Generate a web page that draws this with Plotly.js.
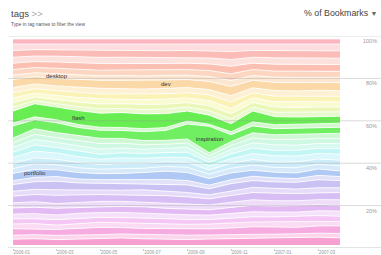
<!DOCTYPE html>
<html><head><meta charset="utf-8">
<script src="https://cdn.plot.ly/plotly-3.0.1.min.js"></script>
<style>html,body{margin:0;padding:0;background:#fff;}#chart{width:381px;height:255px;}</style>
</head><body><div id="chart"></div>
<script>
// ---- data (bottom -> top of the stack) ----
const months = ['2006-01','2006-02','2006-03','2006-04','2006-05','2006-06','2006-07','2006-08','2006-09','2006-10','2006-11','2006-12','2007-01','2007-02','2007-03','2007-04'];
const tickMonths = ['2006-01','2006-03','2006-05','2006-07','2006-09','2006-11','2007-01','2007-03'];
const tickLabels = ['2006-01','2006-03','2006-05','2006-07','2006-09','2006-11','2007-01','2007-03'];
const pctTicks = [0, 20, 40, 60, 80, 100];
const pctLabels = ['', '20%', '40%', '60%', '80%', '100%'];

const tagNames = ['t01','t02','t03','t04','t05','t06','t07','t08','t09','t10','t11','t12','portfolio','t14','t15','t16','t17','t18','t19','t20','inspiration','t22','flash','t24','t25','t26','t27','t28','dev','desktop','t31','t32','t33','t34','t35','t36'];

const s01 = [3.0,3.2,2.8,3.0,3.4,3.6,3.2,3.0,2.8,3.0,3.2,3.4,3.6,3.8,4.0,3.6];
const s02 = [2.0,2.0,2.2,2.0,1.8,2.0,2.2,2.4,2.2,2.0,2.0,2.2,2.0,1.8,2.0,2.2];
const s03 = [3.2,3.0,3.0,3.4,3.6,3.2,3.0,3.0,3.2,3.0,3.4,3.6,3.4,3.2,3.6,3.8];
const s04 = [2.4,2.6,2.2,2.4,2.6,2.4,2.6,2.4,2.2,2.4,2.6,2.4,2.6,2.8,2.4,2.2];
const s05 = [2.6,2.4,2.8,2.6,2.4,2.6,2.8,2.6,2.4,2.2,2.4,2.6,2.4,2.6,2.8,2.6];
const s06 = [2.4,2.6,2.4,2.6,2.4,2.6,2.4,2.2,2.4,2.2,2.4,2.6,2.4,2.2,2.4,2.6];
const s07 = [3.0,3.2,3.4,3.0,2.8,3.0,3.2,3.0,2.8,2.6,3.0,3.2,3.0,3.2,3.0,2.8];
const s08 = [2.6,2.8,2.4,2.6,2.8,2.6,2.4,2.6,2.8,2.4,2.6,2.8,2.6,2.4,2.6,2.8];
const s09 = [3.4,3.6,4.2,3.6,3.4,3.2,3.6,3.8,3.4,3.0,3.4,3.6,3.8,3.6,3.4,3.6];
const s10 = [2.4,2.6,2.8,2.4,2.2,2.4,2.6,2.4,2.2,2.0,2.4,2.6,2.4,2.2,2.6,2.4];
const s11 = [3.4,3.8,4.4,3.6,3.4,3.2,3.0,3.4,3.8,3.0,3.6,3.4,3.2,3.4,4.0,3.6];
const s12 = [2.0,2.2,2.4,2.0,1.8,2.0,2.2,2.4,2.2,1.8,2.0,2.2,2.0,1.8,2.2,2.0];
const s13 = [3.6,4.0,3.4,3.2,3.0,3.2,3.6,4.2,4.0,3.2,3.4,3.0,2.8,2.8,3.2,2.8];
const s14 = [2.4,2.8,2.6,2.4,2.2,2.4,2.2,2.4,2.6,2.2,2.4,2.6,2.4,2.6,2.4,2.6];
const s15 = [2.6,3.0,2.8,2.6,2.4,2.6,2.4,2.2,2.4,2.0,2.4,2.8,2.6,2.8,2.6,2.8];
const s16 = [3.0,3.4,3.2,3.0,2.6,2.8,2.6,2.4,2.6,2.0,2.4,3.0,3.2,3.0,2.8,3.0];
const s17 = [2.6,3.0,2.8,2.8,2.4,2.6,2.4,2.4,2.6,1.8,2.4,2.8,2.6,2.8,2.6,2.8];
const s18 = [2.4,2.8,2.6,2.8,2.6,2.4,2.2,2.2,2.4,1.6,2.2,2.6,2.8,2.6,2.4,2.6];
const s19 = [2.4,2.6,2.4,2.6,2.8,2.4,2.2,2.0,2.2,1.6,2.0,2.4,2.6,2.8,2.6,2.4];
const s20 = [2.4,2.8,2.6,2.4,2.6,2.4,2.2,2.0,2.0,1.6,2.0,2.6,2.4,2.6,2.4,2.6];
const s21 = [6.0,4.5,5.0,4.0,4.0,4.0,4.5,5.0,7.5,13.0,3.5,3.5,3.0,3.0,3.0,3.0];
const s22 = [1.5,1.5,1.5,1.5,1.5,1.5,1.5,1.5,1.5,1.0,1.5,2.0,2.0,2.0,2.0,2.0];
const s23 = [6.0,6.5,6.5,7.0,7.0,7.5,7.5,7.0,5.0,4.5,4.0,5.5,4.0,3.5,3.5,3.5];
const s24 = [2.0,1.6,1.8,2.0,2.2,2.0,2.2,2.4,2.0,2.2,2.4,2.0,2.2,2.4,2.2,2.2];
const s25 = [2.2,1.8,2.0,2.2,2.4,2.4,2.6,2.4,2.2,2.4,2.6,2.2,2.6,2.4,2.6,2.4];
const s26 = [2.4,2.0,2.2,2.4,2.6,2.4,2.4,2.6,2.4,2.6,2.8,2.4,2.6,2.8,2.6,2.6];
const s27 = [2.6,2.2,2.4,2.6,2.4,2.6,2.8,2.6,2.6,2.8,3.2,2.4,2.8,2.6,2.8,2.8];
const s28 = [2.6,2.4,2.4,2.6,2.8,2.6,2.6,2.8,2.6,2.6,3.2,2.6,2.8,2.8,3.0,2.8];
const s29 = [4.0,3.6,3.8,3.8,4.0,4.2,4.4,4.2,4.0,4.0,4.6,3.8,4.0,4.2,4.2,4.0];
const s30 = [2.2,2.0,2.4,2.2,2.2,2.4,2.2,2.4,2.2,2.4,3.0,2.4,2.6,2.4,2.4,2.6];
const s31 = [2.8,2.6,2.8,3.0,2.8,2.8,3.0,2.8,2.8,3.0,3.4,3.0,3.0,3.2,3.0,3.0];
const s32 = [3.2,3.0,3.2,3.2,3.4,3.2,3.2,3.2,3.2,3.2,3.8,3.2,3.4,3.2,3.4,3.4];
const s33 = [3.0,2.8,3.0,3.0,3.0,3.2,3.2,3.0,3.0,3.0,3.4,3.0,3.2,3.2,3.2,3.2];
const s34 = [3.4,3.2,3.2,3.4,3.4,3.4,3.6,3.4,3.4,3.4,4.0,3.4,3.6,3.6,3.6,3.6];
const s35 = [3.2,3.0,3.0,3.0,3.2,3.2,3.2,3.4,3.2,3.4,3.6,3.2,3.2,3.4,3.4,3.4];
const s36 = [2.6,2.4,2.6,2.6,2.6,2.6,2.6,2.6,2.6,2.6,2.8,2.6,2.6,2.6,2.6,2.6];

const series = [s01,s02,s03,s04,s05,s06,s07,s08,s09,s10,s11,s12,s13,s14,s15,s16,s17,s18,s19,s20,s21,s22,s23,s24,s25,s26,s27,s28,s29,s30,s31,s32,s33,s34,s35,s36];

// labelled tags: name and the month where its label sits
const labelTags = ['desktop','dev','flash','inspiration','portfolio'];
const labelMonths = ['2006-03','2006-08','2006-04','2006-10','2006-02'];

// ---- styles ----
const colors = [
 'hsl(325,85%,80%)','hsl(322,85%,91%)','hsl(318,80%,82%)','hsl(312,80%,92%)','hsl(300,70%,87%)','hsl(292,70%,93%)',
 'hsl(283,70%,84%)','hsl(278,70%,92%)','hsl(268,70%,85%)','hsl(260,70%,92%)','hsl(250,70%,86%)','hsl(240,70%,93%)',
 'hsl(218,75%,82%)','hsl(208,80%,91%)','hsl(198,80%,89%)','hsl(188,80%,92%)','hsl(178,75%,86%)','hsl(163,75%,91%)',
 'hsl(148,75%,89%)','hsl(128,75%,89%)','hsl(114,82%,66%)','hsl(112,75%,89%)','hsl(112,82%,63%)',
 'hsl(85,80%,89%)','hsl(72,80%,84%)','hsl(62,85%,90%)','hsl(52,90%,85%)','hsl(42,90%,91%)','hsl(35,92%,82%)',
 'hsl(30,90%,90%)','hsl(22,90%,87%)','hsl(12,90%,84%)','hsl(8,90%,93%)','hsl(4,90%,85%)','hsl(358,90%,93%)','hsl(352,90%,85%)'
];

const traces = series.map((vals, i) => ({
  x: months, y: vals, name: tagNames[i], type: 'scatter', mode: 'lines',
  stackgroup: 'tags', groupnorm: 'percent',
  line: {color: '#ffffff', width: 0.8, shape: 'linear'},
  fillcolor: colors[i], hoverinfo: 'skip', showlegend: false
}));

// label y = middle of the band, in percent, computed from the data
const annotations = labelTags.map((name, k) => {
  const si = tagNames.indexOf(name);
  const mi = months.indexOf(labelMonths[k]);
  let total = 0, below = 0;
  series.forEach((s, j) => { total += s[mi]; if (j < si) below += s[mi]; });
  const mid = (below + series[si][mi] / 2) / total * 100;
  return {x: labelMonths[k], y: mid, xref: 'x', yref: 'y', text: name, showarrow: false,
          font: {family: 'Liberation Sans, Arial, sans-serif', size: 6, color: '#333'}};
});

pctTicks.forEach((v, k) => {
  if (pctLabels[k]) annotations.push({x: 1.12, xref: 'paper', y: v, yref: 'y2', text: pctLabels[k],
    xanchor: 'right', yanchor: 'top', yshift: 0, showarrow: false,
    font: {family: 'Liberation Sans, Arial, sans-serif', size: 5.5, color: '#999'}});
});

annotations.push({x: 0, y: 1, xref: 'paper', yref: 'paper', xshift: -4, yshift: 23, xanchor: 'left', yanchor: 'middle',
  text: 'tags <span style="color:#aaa">&gt;&gt;</span>', showarrow: false,
  font: {family: 'Liberation Sans, Arial, sans-serif', size: 9.5, color: '#444'}});
annotations.push({x: 0, y: 1, xref: 'paper', yref: 'paper', xshift: -4, yshift: 12, xanchor: 'left', yanchor: 'middle',
  text: 'Type in tag names to filter the view', showarrow: false,
  font: {family: 'Liberation Sans, Arial, sans-serif', size: 4.8, color: '#555'}});
annotations.push({x: 1.12, y: 1, xref: 'paper', yref: 'paper', xanchor: 'right', yanchor: 'middle', yshift: 23,
  text: '% of Bookmarks <span style="font-size:7px;color:#666">▼</span>', showarrow: false,
  font: {family: 'Liberation Sans, Arial, sans-serif', size: 8.8, color: '#444'}});

const shapes = pctTicks.map(v => ({type: 'line', xref: 'paper', yref: 'y2', x0: -0.015, x1: 1.13, y0: v, y1: v,
  layer: 'above', line: {color: v === 0 ? 'rgba(160,160,160,0.6)' : 'rgba(150,150,150,0.35)', width: 1}}));

const layout = {
  width: 381, height: 255,
  margin: {l: 13, r: 41, t: 36, b: 7},
  paper_bgcolor: '#fff', plot_bgcolor: '#fff',
  showlegend: false,
  xaxis: {type: 'category', range: [0, months.length - 1], tickvals: tickMonths, ticktext: tickLabels,
          ticks: 'outside', ticklen: 2, tickcolor: '#ccc', ticklabelposition: 'outside right', ticklabelstandoff: 0,
          tickfont: {family: 'Liberation Sans, Arial, sans-serif', size: 4.5, color: '#999'},
          showgrid: false, zeroline: false, showline: false, fixedrange: true},
  yaxis: {range: [-1.4, 101.4], showgrid: false, zeroline: false, showticklabels: false, showline: false, ticks: ''},
  yaxis2: {range: [0, 100], overlaying: 'y', side: 'right', showgrid: false, zeroline: false,
           showticklabels: false, showline: false, ticks: ''},
  annotations: annotations,
  shapes: shapes
};

Plotly.newPlot('chart', traces, layout, {staticPlot: true, displayModeBar: false});
</script></body></html>
